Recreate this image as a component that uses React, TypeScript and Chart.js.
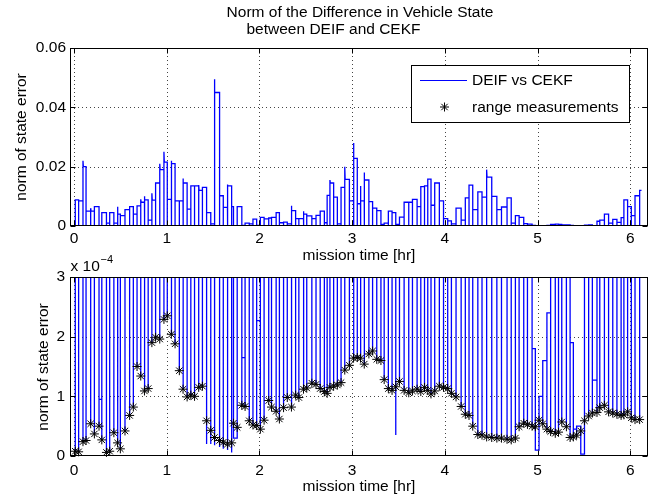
import React, { useEffect, useRef } from "react";
import { Chart, registerables } from "chart.js";

Chart.register(...registerables);

const FONT = "'Liberation Sans', Arial, Helvetica, sans-serif";
const FONT_SIZE = 15.5;
const BLUE = "#0000ff";

// ---- data ----
// times of the range measurements [hr]
const measTimes = [
  0.014, 0.05, 0.097, 0.13, 0.18, 0.22, 0.27, 0.3, 0.35, 0.385,
  0.43, 0.47, 0.5, 0.55, 0.6, 0.64, 0.68, 0.72, 0.76, 0.8,
  0.84, 0.88, 0.925, 0.97, 1.006, 1.05, 1.09, 1.136, 1.176, 1.22,
  1.26, 1.3, 1.345, 1.385, 1.43, 1.475, 1.515, 1.57, 1.61, 1.655,
  1.7, 1.72, 1.76, 1.81, 1.845, 1.89, 1.93, 1.97, 2.01, 2.05,
  2.1, 2.13, 2.18, 2.215, 2.26, 2.3, 2.345, 2.39, 2.425, 2.475,
  2.51, 2.565, 2.61, 2.655, 2.7, 2.73, 2.76, 2.8, 2.84, 2.88,
  2.92, 2.97, 3.015, 3.055, 3.09, 3.13, 3.18, 3.22, 3.265, 3.31,
  3.345, 3.39, 3.43, 3.47, 3.51, 3.56, 3.61, 3.65, 3.7, 3.74,
  3.78, 3.815, 3.85, 3.89, 3.94, 3.985, 4.03, 4.07, 4.12, 4.175,
  4.22, 4.26, 4.3, 4.355, 4.4, 4.45, 4.505, 4.56, 4.61, 4.67,
  4.715, 4.76, 4.8, 4.85, 4.89, 4.94, 4.975, 5.015, 5.055, 5.1,
  5.14, 5.19, 5.225, 5.26, 5.31, 5.35, 5.385, 5.42, 5.465, 5.505,
  5.55, 5.59, 5.64, 5.67, 5.72, 5.765, 5.81, 5.855, 5.9, 5.93,
  5.97, 6.01, 6.05, 6.1,
];

// norm of state error at each range measurement [x 1e-4]
const rangeNormE4 = [
  0.08, 0.07, 0.24, 0.26, 0.54, 0.37, 0.5, 0.27, 0.06, 0.08,
  0.39, 0.22, 0.12, 0.42, 0.68, 0.82, 1.5, 1.34, 1.09, 1.13,
  1.9, 1.99, 1.96, 2.29, 2.35, 2.04, 1.88, 1.43, 1.12, 0.99,
  1.02, 1.0, 1.15, 1.17, 0.59, 0.43, 0.31, 0.26, 0.23, 0.2,
  0.22, 0.55, 0.48, 0.85, 0.83, 0.59, 0.52, 0.51, 0.45, 0.6,
  0.93, 0.82, 0.75, 0.62, 0.81, 0.98, 0.82, 1.02, 0.98, 1.12,
  1.14, 1.22, 1.2, 1.13, 1.08, 1.05, 1.15, 1.17, 1.19, 1.23,
  1.44, 1.52, 1.64, 1.65, 1.64, 1.54, 1.71, 1.76, 1.62, 1.6,
  1.28, 1.13, 1.1, 1.16, 1.25, 1.1, 1.06, 1.09, 1.12, 1.08,
  1.15, 1.1, 1.04, 1.09, 1.17, 1.15, 1.13, 1.05, 0.99, 0.83,
  0.7, 0.68, 0.5, 0.36, 0.35, 0.32, 0.31, 0.3, 0.3, 0.28,
  0.27, 0.3, 0.49, 0.55, 0.53, 0.5, 0.49, 0.6, 0.54, 0.45,
  0.41, 0.38, 0.4, 0.57, 0.49, 0.31, 0.32, 0.35, 0.42, 0.59,
  0.67, 0.72, 0.73, 0.81, 0.85, 0.74, 0.72, 0.7, 0.68, 0.69,
  0.74, 0.64, 0.61, 0.61,
];

// DEIF vs CEKF difference held between measurements (level after each measurement)
const diffLevels = [
  0.0088, 0.0085, 0.02, 0.005, 0.005, 0.0065, 0.95e-4, 0.0045, 0.001, 0.0045,
  0.001, 0.004, 0.0035, 0.0055, 0.0065, 0.004, 0.0068, 0.008, 0.0088, 0.002,
  0.0087, 0.0145, 0.019, 0.0215, 0.009, 0.021, 0.0085, 0.0085, 0.0145, 0.0057,
  0.0135, 0.0135, 0.012, 0.013, 0.0045, 0.0007, 0.045, 0.0102, 0.0063, 0.0135,
  0.0065, 0.3e-4, 0.0065, 1.65e-4, 0.001, 0.0007, 0.0023, 2.27e-4, 0.0029, 0.0024,
  0.0027, 0.0029, 0.0045, 0.0011, 0.0013, 0.0007, 0.0052, 0.0025, 0.0025, 0.004,
  0.0034, 0.0025, 0.0036, 0.005, 0.0011, 0.0103, 0.0145, 0.0097, 0.0007, 0.013,
  0.0157, 0.0085, 0.0228, 0.0075, 0.0085, 0.0155, 0.0082, 0.006, 0.0052, 0.0005,
  0.001, 0.005, 0.0045, 0.0005, 0.003, 0.008, 0.008, 0.009, 0.0065, 0.0133,
  0.0135, 0.0158, 0.007, 0.0145, 0.0085, 0.0025, 0.0017, 0.0007, 0.006, 0.002,
  0.0095, 0.0138, 0.0055, 0.0115, 0.0097, 0.0165, 0.01, 0.0055, 0.0064, 0.0095,
  0.001, 0.0035, 0.0029, 0.0008, 0.0006, 1.8e-4, 0.1e-4, 1.0e-4, 1.6e-4, 2.4e-4,
  0.0005, 0.0006, 0.0005, 0.0004, 0.00035, 1.9e-4, 0.45e-4, 0.5e-4, 0.03e-4, 0.00032,
  0.0004, 1.27e-4, 0.0016, 0.002, 0.004, 0.001, 0.0022, 0.0012, 0.0028, 0.0088,
  0.0065, 0.0035, 0.0102, 0.012,
];

// short overshoots right after some measurements
const peakTimes = [0.097, 0.18, 0.47, 0.72, 0.76, 0.84, 0.925, 0.97, 1.05, 1.176, 1.345, 1.515, 1.655, 2.345, 2.475, 2.76, 2.92, 3.015, 3.09, 3.13, 4.45];
const peakLevels = [0.022, 0.006, 0.0065, 0.009, 0.01, 0.011, 0.021, 0.025, 0.022, 0.016, 0.0138, 0.0495, 0.014, 0.0068, 0.005, 0.0155, 0.02, 0.028, 0.0135, 0.018, 0.019];

// measurements where the line dips below the marker [x 1e-4]
const dipTimes = [1.43, 1.475, 1.515, 1.57, 1.61, 1.655, 1.7, 3.47];
const dipNormE4 = [0.2, 0.2, 0.18, 0.15, 0.12, 0.1, 0.06, 0.35];

const lineEndTime = 6.12;
const E4 = 1e-4;

const xTickLabels = ["0", "1", "2", "3", "4", "5", "6"];
const topYTickLabels = ["0", "0.02", "0.04", "0.06"];
const bottomYTickLabels = ["0", "1", "2", "3"];

const X_MIN = -0.043;
const X_MAX = 6.19;
const PEAK_DECAY_HR = 0.004;
const LINE_WIDTH = 1.3;

type Pt = { x: number; y: number };

function buildDiffLine(): Pt[] {
  const pts: Pt[] = [];
  for (let i = 0; i < measTimes.length; i++) {
    const t = measTimes[i];
    const di = dipTimes.indexOf(t);
    const low = (di >= 0 ? dipNormE4[di] : rangeNormE4[i]) * E4;
    pts.push({ x: t, y: low });
    const pi = peakTimes.indexOf(t);
    if (pi >= 0) {
      pts.push({ x: t, y: peakLevels[pi] });
      pts.push({ x: t + PEAK_DECAY_HR, y: diffLevels[i] });
    } else {
      pts.push({ x: t, y: diffLevels[i] });
    }
    const tEnd = i + 1 < measTimes.length ? measTimes[i + 1] : lineEndTime;
    pts.push({ x: tEnd, y: diffLevels[i] });
  }
  return pts;
}

function buildStars(): Pt[] {
  return measTimes.map((t, i) => ({ x: t, y: rangeNormE4[i] * E4 }));
}

function font(size = FONT_SIZE) {
  return `${size}px ${FONT}`;
}

function drawStar(ctx: CanvasRenderingContext2D, x: number, y: number, r: number) {
  ctx.beginPath();
  for (let k = 0; k < 4; k++) {
    const a = (k * Math.PI) / 4;
    ctx.moveTo(x - Math.cos(a) * r, y - Math.sin(a) * r);
    ctx.lineTo(x + Math.cos(a) * r, y + Math.sin(a) * r);
  }
  ctx.stroke();
}

function matlabAxesPlugin(decor: (ctx: CanvasRenderingContext2D, chart: any) => void) {
  return {
    id: "matlabAxes",
    beforeDatasetsDraw(chart: any) {
      const { ctx, chartArea: a } = chart;
      const xs = chart.scales.x;
      const ys = chart.scales.y;
      ctx.save();
      ctx.strokeStyle = "#444";
      ctx.lineWidth = 1;
      ctx.setLineDash([1, 3]);
      for (const tk of xs.ticks) {
        const px = Math.round(xs.getPixelForValue(tk.value)) + 0.5;
        if (px <= a.left + 1.5 || px >= a.right - 1.5) continue;
        ctx.beginPath();
        ctx.moveTo(px, a.top);
        ctx.lineTo(px, a.bottom);
        ctx.stroke();
      }
      for (const tk of ys.ticks) {
        const py = Math.round(ys.getPixelForValue(tk.value)) + 0.5;
        if (py <= a.top + 1.5 || py >= a.bottom - 1.5) continue;
        ctx.beginPath();
        ctx.moveTo(a.left, py);
        ctx.lineTo(a.right, py);
        ctx.stroke();
      }
      ctx.restore();
    },
    afterDatasetsDraw(chart: any) {
      const { ctx, chartArea: a } = chart;
      const xs = chart.scales.x;
      const ys = chart.scales.y;
      const L = Math.round(a.left) + 0.5;
      const R = Math.round(a.right) - 0.5;
      const T = Math.round(a.top) + 0.5;
      const B = Math.round(a.bottom) - 0.5;
      ctx.save();
      ctx.strokeStyle = "#000";
      ctx.lineWidth = 1;
      ctx.setLineDash([]);
      ctx.strokeRect(L, T, R - L, B - T);
      const TL = 5;
      ctx.beginPath();
      for (const tk of xs.ticks) {
        const px = Math.round(xs.getPixelForValue(tk.value)) + 0.5;
        ctx.moveTo(px, B);
        ctx.lineTo(px, B - TL);
        ctx.moveTo(px, T);
        ctx.lineTo(px, T + TL);
      }
      for (const tk of ys.ticks) {
        const py = Math.round(ys.getPixelForValue(tk.value)) + 0.5;
        ctx.moveTo(L, py);
        ctx.lineTo(L + TL, py);
        ctx.moveTo(R, py);
        ctx.lineTo(R - TL, py);
      }
      ctx.stroke();
      ctx.restore();
      ctx.save();
      decor(ctx, chart);
      ctx.restore();
    },
  };
}

function drawText(ctx: CanvasRenderingContext2D, text: string, x: number, y: number, align: CanvasTextAlign = "center", size = FONT_SIZE) {
  ctx.font = font(size);
  ctx.fillStyle = "#000";
  ctx.textAlign = align;
  ctx.textBaseline = "middle";
  ctx.fillText(text, x, y);
}

function drawVText(ctx: CanvasRenderingContext2D, text: string, x: number, y: number) {
  ctx.save();
  ctx.translate(x, y);
  ctx.rotate(-Math.PI / 2);
  drawText(ctx, text, 0, 0);
  ctx.restore();
}

function xScale(tickPad: number, height: number) {
  return {
    type: "linear" as const,
    min: X_MIN,
    max: X_MAX,
    grid: { display: false, drawTicks: false },
    border: { display: false },
    ticks: {
      stepSize: 1,
      includeBounds: false,
      autoSkip: false,
      maxRotation: 0,
      minRotation: 0,
      padding: tickPad,
      color: "#000",
      font: { family: FONT, size: FONT_SIZE },
      callback: (v: number) => {
        const idx = Math.round(v);
        return xTickLabels[idx] ?? String(idx);
      },
    },
    afterFit: (s: any) => {
      s.height = height;
    },
  };
}

function topConfig(): any {
  return {
    type: "line",
    data: {
      datasets: [
        {
          label: "DEIF vs CEKF",
          data: buildDiffLine(),
          borderColor: BLUE,
          borderWidth: LINE_WIDTH,
          pointRadius: 0,
          tension: 0,
          fill: false,
        },
      ],
    },
    options: {
      responsive: false,
      animation: false,
      events: [],
      parsing: false,
      layout: { padding: { top: 48, right: 8, left: 0, bottom: 0 } },
      plugins: { legend: { display: false }, tooltip: { enabled: false }, title: { display: false } },
      scales: {
        x: xScale(3, 44),
        y: {
          type: "linear",
          min: 0,
          max: 0.06,
          grid: { display: false, drawTicks: false },
          border: { display: false },
          ticks: {
            stepSize: 0.02,
            padding: 4,
            color: "#000",
            font: { family: FONT, size: FONT_SIZE },
            callback: (v: number) => topYTickLabels[Math.round(v / 0.02)] ?? String(v),
          },
          afterFit: (s: any) => {
            s.width = 70;
          },
        },
      },
    },
    plugins: [
      matlabAxesPlugin((ctx) => {
        drawText(ctx, "Norm of the Difference in Vehicle State", 360, 12.5);
        drawText(ctx, "between DEIF and CEKF", 333.5, 29.5);
        drawVText(ctx, "norm of state error", 22, 137);
        drawText(ctx, "mission time [hr]", 359, 256);
        // legend
        ctx.fillStyle = "#fff";
        ctx.fillRect(411.5, 65.5, 218, 57);
        ctx.strokeStyle = "#000";
        ctx.lineWidth = 1;
        ctx.strokeRect(411.5, 65.5, 218, 57);
        ctx.strokeStyle = BLUE;
        ctx.beginPath();
        ctx.moveTo(420, 80.5);
        ctx.lineTo(467, 80.5);
        ctx.stroke();
        ctx.strokeStyle = "#000";
        drawStar(ctx, 444.5, 107, 4.5);
        drawText(ctx, "DEIF vs CEKF", 472, 81, "left");
        drawText(ctx, "range measurements", 472, 107.5, "left");
      }),
    ],
  };
}

function bottomConfig(): any {
  return {
    type: "line",
    data: {
      datasets: [
        {
          label: "range measurements",
          data: buildStars(),
          showLine: false,
          pointStyle: "star",
          pointRadius: 4.5,
          pointBorderColor: "#000",
          pointBorderWidth: 1,
          borderColor: "#000",
          clip: false,
        },
        {
          label: "DEIF vs CEKF",
          data: buildDiffLine(),
          borderColor: BLUE,
          borderWidth: LINE_WIDTH,
          pointRadius: 0,
          tension: 0,
          fill: false,
        },
      ],
    },
    options: {
      responsive: false,
      animation: false,
      events: [],
      parsing: false,
      layout: { padding: { top: 27, right: 8, left: 0, bottom: 0 } },
      plugins: { legend: { display: false }, tooltip: { enabled: false }, title: { display: false } },
      scales: {
        x: xScale(5, 43),
        y: {
          type: "linear",
          min: 0,
          max: 3e-4,
          grid: { display: false, drawTicks: false },
          border: { display: false },
          ticks: {
            stepSize: 1e-4,
            padding: 5,
            color: "#000",
            font: { family: FONT, size: FONT_SIZE },
            callback: (v: number) => bottomYTickLabels[Math.round(v / E4)] ?? String(v),
          },
          afterFit: (s: any) => {
            s.width = 70;
          },
        },
      },
    },
    plugins: [
      matlabAxesPlugin((ctx) => {
        drawText(ctx, "x 10", 70.5, 16.5, "left");
        drawText(ctx, "\u22124", 100.5, 9.5, "left", 11);
        drawVText(ctx, "norm of state error", 43.5, 117);
        drawText(ctx, "mission time [hr]", 359, 236.5);
      }),
    ],
  };
}

export default function App() {
  const topRef = useRef<HTMLCanvasElement>(null);
  const botRef = useRef<HTMLCanvasElement>(null);
  useEffect(() => {
    const c1 = new Chart(topRef.current as HTMLCanvasElement, topConfig());
    const c2 = new Chart(botRef.current as HTMLCanvasElement, bottomConfig());
    return () => {
      c1.destroy();
      c2.destroy();
    };
  }, []);
  return (
    <div style={{ position: "absolute", left: 0, top: 0, width: 656, height: 499, background: "#fff", overflow: "hidden" }}>
      <canvas ref={topRef} width={656} height={270} style={{ position: "absolute", left: 0, top: 0, width: 656, height: 270 }} />
      <canvas ref={botRef} width={656} height={249} style={{ position: "absolute", left: 0, top: 250, width: 656, height: 249 }} />
    </div>
  );
}
